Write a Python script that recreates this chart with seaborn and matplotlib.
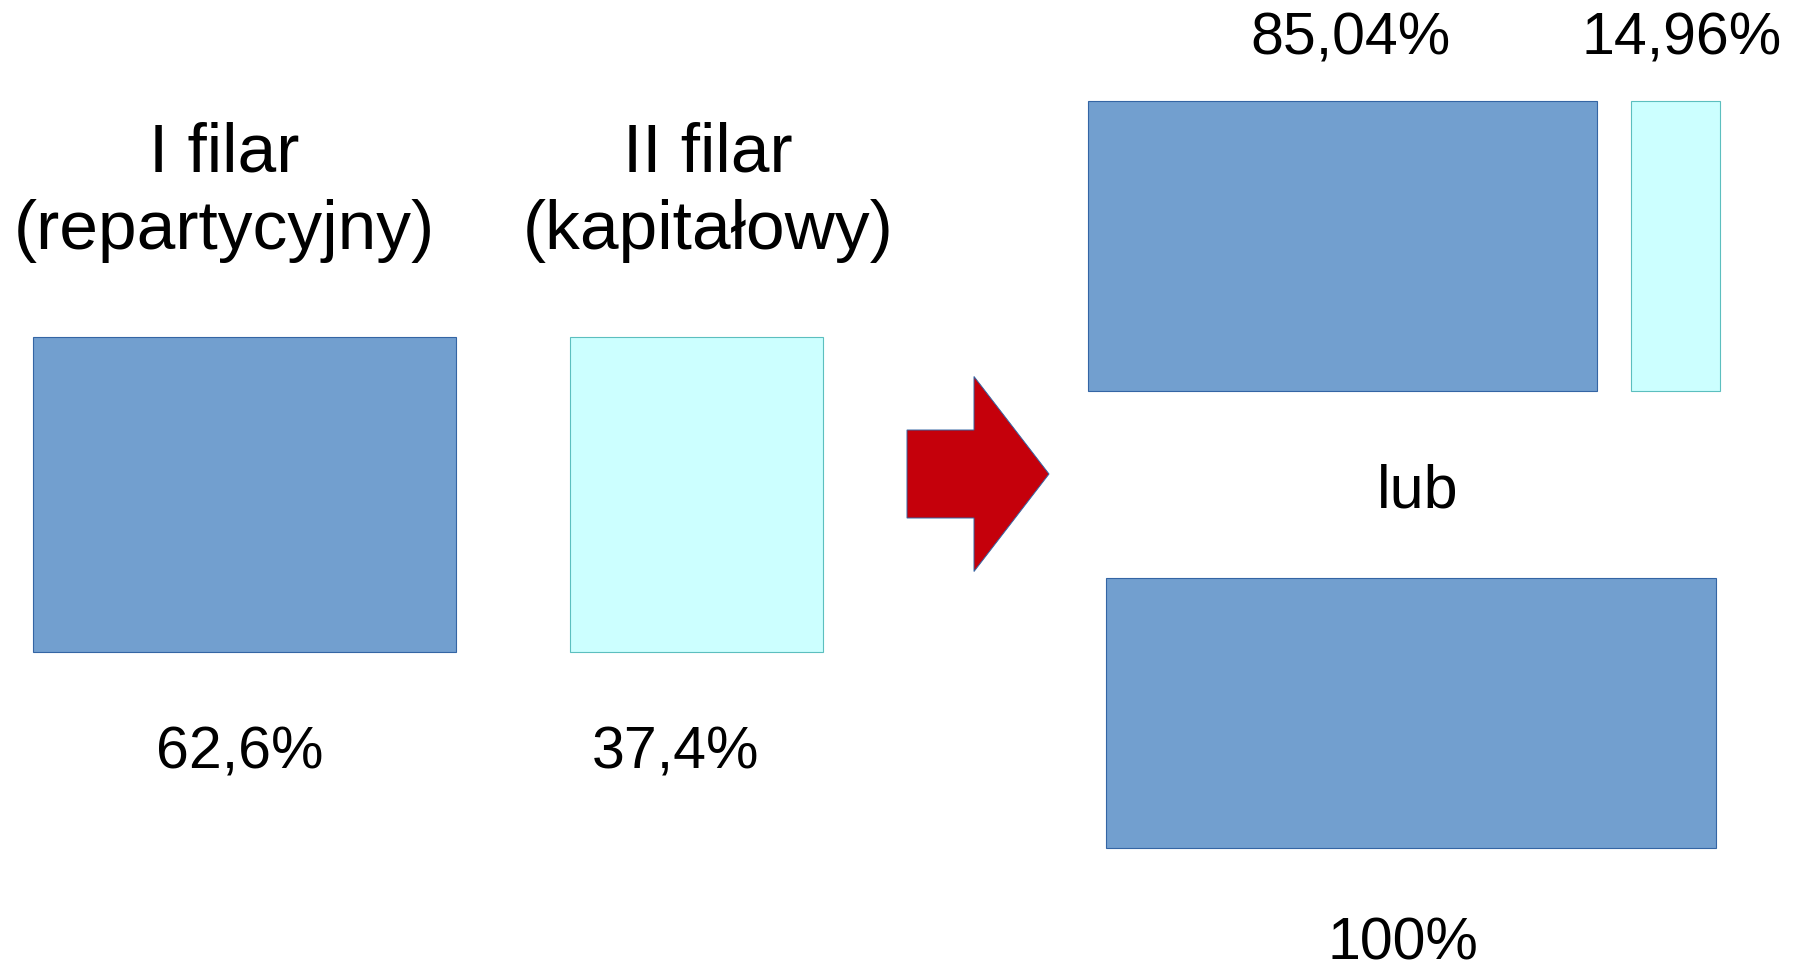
import matplotlib
matplotlib.use("Agg")
import matplotlib.pyplot as plt
from matplotlib.patches import FancyArrow
import seaborn as sns

# ---------------- data ----------------
pillar_names = ["I filar", "II filar"]
pillar_types = ["(repartycyjny)", "(kapitałowy)"]
left_shares = [62.6, 37.4]          # current split
right_top_shares = [85.04, 14.96]   # variant 1
right_bottom_shares = [100.0]       # variant 2
connector_word = "lub"

def fmt(v, dec):
    if abs(v - round(v)) < 1e-9 and v >= 100:
        return f"{int(round(v))}%"
    return f"{v:.{dec}f}".replace(".", ",") + "%"

# ---------------- style ----------------
sns.set_theme(style="white")
plt.rcParams["font.family"] = ["Liberation Sans", "DejaVu Sans"]

BLUE, BLUE_EDGE = "#729FCF", "#3465A4"
CYAN, CYAN_EDGE = "#CCFFFF", "#5CBFBF"
RED = "#C5000B"
colors = [(BLUE, BLUE_EDGE), (CYAN, CYAN_EDGE)]
TITLE_FS = 50
LABEL_FS = 42.5

W, H = 1803, 964
fig = plt.figure(figsize=(W / 100, H / 100), dpi=100)
ax = fig.add_axes([0, 0, 1, 1])
ax.set_xlim(0, W)
ax.set_ylim(H, 0)
ax.axis("off")

# ---------------- left group ----------------
scale_left = 6.76
x = 33
for share, (fc, ec) in zip(left_shares, colors):
    w = share * scale_left
    ax.bar(x, 315, width=w, bottom=337, align="edge", color=fc,
           edgecolor=ec, linewidth=0.8)
    x += w + 114

title_x = [224, 708]
label_x = [240, 676]
for i in range(len(left_shares)):
    ax.text(title_x[i], 172, pillar_names[i], ha="center", va="baseline",
            fontsize=TITLE_FS, color="black")
    ax.text(title_x[i], 249, pillar_types[i], ha="center", va="baseline",
            fontsize=TITLE_FS, color="black")
    ax.text(label_x[i], 768, fmt(left_shares[i], 1), ha="center",
            va="baseline", fontsize=LABEL_FS, color="black")

# ---------------- arrow ----------------
ax.add_patch(FancyArrow(907, 474, 142, 0, width=88, head_width=195,
                        head_length=75, length_includes_head=True,
                        fc=RED, ec=BLUE_EDGE, lw=0.7))

# ---------------- right group: top ----------------
scale_top = 5.98
x = 1088
label_dx = [8, 6]
for share, (fc, ec), dx in zip(right_top_shares, colors, label_dx):
    w = share * scale_top
    ax.bar(x, 290, width=w, bottom=101, align="edge", color=fc,
           edgecolor=ec, linewidth=0.8)
    ax.text(x + w / 2 + dx, 54, fmt(share, 2), ha="center", va="baseline",
            fontsize=LABEL_FS, color="black")
    x += w + 34

ax.text(1418, 508, connector_word, ha="center", va="baseline",
        fontsize=44, color="black")

# ---------------- right group: bottom ----------------
scale_bottom = 6.1
x = 1106
for share in right_bottom_shares:
    w = share * scale_bottom
    ax.bar(x, 270, width=w, bottom=578, align="edge", color=BLUE,
           edgecolor=BLUE_EDGE, linewidth=0.8)
    ax.text(x + w / 2 - 8, 959, fmt(share, 0), ha="center", va="baseline",
            fontsize=LABEL_FS, color="black")

fig.savefig("out.png", dpi=100, facecolor="white")
